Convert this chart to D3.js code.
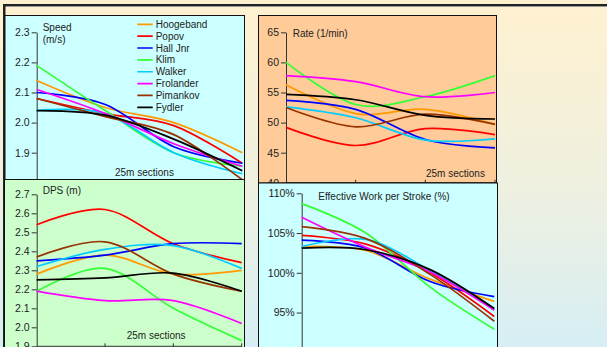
<!DOCTYPE html>
<html><head><meta charset="utf-8">
<script src="https://cdn.jsdelivr.net/npm/d3@7"></script>
<style>body{margin:0;overflow:hidden;background:#fff}svg{display:block;font-family:"Liberation Sans",Arial,sans-serif}</style>
</head><body><svg id="c" width="607" height="347"></svg>
<script>
const runners = ["Hoogeband","Popov","Hall Jnr","Klim","Walker","Frolander","Pimankov","Fydler"];
const runnerColors = ["#FF9900","#FF0000","#0000FF","#33FF33","#00CCFF","#FF00FF","#993300","#000000"];
const sections = ["0-25m","25-50m","50-75m","75-100m"];

const speedValues = [
  [2.14, 2.05, 2.00, 1.90],
  [2.08, 2.03, 1.99, 1.865],
  [2.10, 2.06, 1.92, 1.865],
  [2.19, 2.04, 1.90, 1.855],
  [2.04, 2.03, 1.90, 1.83],
  [2.11, 2.03, 1.93, 1.855],
  [2.08, 2.02, 1.96, 1.81],
  [2.04, 2.025, 1.945, 1.84]
];
const rateValues = [
  [56.3, 51.5, 52.2, 49.7],
  [49.2, 46.2, 49.0, 48.0],
  [53.7, 52.2, 47.2, 45.8],
  [60.0, 53.0, 54.3, 57.8],
  [52.6, 50.8, 47.1, 47.3],
  [57.8, 56.8, 54.3, 55.0],
  [52.5, 49.3, 51.4, 49.7],
  [54.7, 53.8, 51.2, 50.6]
];
const dpsValues = [
  [2.28, 2.38, 2.28, 2.30],
  [2.54, 2.62, 2.44, 2.34],
  [2.35, 2.38, 2.44, 2.44],
  [2.19, 2.31, 2.10, 1.93],
  [2.32, 2.41, 2.43, 2.31],
  [2.19, 2.14, 2.14, 2.02],
  [2.37, 2.45, 2.28, 2.19],
  [2.25, 2.26, 2.285, 2.19]
];
const ewsValues = [
  [103.3, 102.8, 99.2, 96.4],
  [104.7, 103.6, 100.0, 94.5],
  [104.1, 103.1, 98.9, 97.0],
  [108.7, 105.0, 98.2, 92.9],
  [103.3, 104.2, 100.3, 95.4],
  [107.0, 103.2, 100.1, 95.3],
  [105.8, 104.3, 99.8, 93.9],
  [103.1, 102.9, 100.4, 95.5]
];
const speedTicks = [1.8, 1.9, 2.0, 2.1, 2.2, 2.3];
const rateTicks = [40, 45, 50, 55, 60, 65];
const dpsTicks = [1.9, 2.0, 2.1, 2.2, 2.3, 2.4, 2.5, 2.6, 2.7];
const ewsTicks = [95, 100, 105, 110];

const svg = d3.select("#c");
const defs = svg.append("defs");
const grad = defs.append("linearGradient").attr("id","bg").attr("x1",0).attr("y1",0).attr("x2",0).attr("y2",1);
grad.append("stop").attr("offset","0%").attr("stop-color","#FFF1D0");
grad.append("stop").attr("offset","55%").attr("stop-color","#EEF0E0");
grad.append("stop").attr("offset","100%").attr("stop-color","#D6EEF4");
svg.append("rect").attr("width",607).attr("height",347).attr("fill","url(#bg)");
// frame lines
svg.append("rect").attr("x",3).attr("y",4).attr("width",604).attr("height",2).attr("fill","#222");
svg.append("rect").attr("x",3).attr("y",6).attr("width",604).attr("height",1).attr("fill","#999");
svg.append("rect").attr("x",3).attr("y",4).attr("width",2.5).attr("height",343).attr("fill","#222");

const panels = [
  {id:"p1", box:[5,15.5,239.5,164], fill:"#CCFFFF", values:speedValues, ticks:speedTicks, dom:[1.8,2.3],
   xr:[36.7,242.3], yr:[182.8,32.3], fmt:d3.format(".1f"),
   labels:[{t:"Speed",x:42.7,y:31},{t:"(m/s)",x:42.7,y:43},{t:"25m sections",x:115,y:175.5}], legend:true},
  {id:"p2", box:[258.5,15.5,238,167.5], fill:"#FFCC99", values:rateValues, ticks:rateTicks, dom:[40,65],
   xr:[286,495], yr:[182.8,32.3], fmt:d3.format("d"),
   labels:[{t:"Rate (1/min)",x:292.7,y:37},{t:"25m sections",x:426,y:176.5}]},
  {id:"p3", box:[4.5,179.5,240,180], fill:"#CCFFCC", values:dpsValues, ticks:dpsTicks, dom:[1.9,2.7],
   xr:[36.7,241.7], yr:[346.3,194.3], fmt:d3.format(".1f"),
   labels:[{t:"DPS (m)",x:42.7,y:194},{t:"25m sections",x:126.7,y:338.5}]},
  {id:"p4", box:[258.5,183,239,180], fill:"#CCFFFF", values:ewsValues, ticks:ewsTicks, dom:[90,110],
   xr:[301.7,494.3], yr:[352.3,193.3], fmt:d => d + "%",
   labels:[{t:"Effective Work per Stroke (%)",x:318.3,y:200}]}
];

panels.forEach(p => {
  const [bx,by,bw,bh] = p.box;
  defs.append("clipPath").attr("id","clip"+p.id).append("rect").attr("x",bx).attr("y",by).attr("width",bw).attr("height",bh);
  const g = svg.append("g");
  g.append("rect").attr("x",bx).attr("y",by).attr("width",bw).attr("height",bh).attr("fill",p.fill);
  const inner = g.append("g").attr("clip-path","url(#clip"+p.id+")");
  const x = d3.scalePoint().domain(sections).range(p.xr);
  const y = d3.scaleLinear().domain(p.dom).range(p.yr);

  const ya = inner.append("g").attr("transform",`translate(${p.xr[0]},0)`)
    .call(d3.axisLeft(y).tickValues(p.ticks).tickFormat(p.fmt).tickSizeInner(5).tickSizeOuter(0).tickPadding(2));
  ya.select(".domain").attr("stroke","#333");
  ya.selectAll(".tick line").attr("stroke","#333");
  ya.selectAll("text").attr("fill","#222").style("font-size","10.5px");

  const y0 = p.yr[0];
  inner.append("line").attr("x1",p.xr[0]).attr("x2",p.xr[1]).attr("y1",y0).attr("y2",y0).attr("stroke","#333");
  inner.selectAll(".xt").data(sections.slice(1)).join("line")
    .attr("x1",d=>x(d)).attr("x2",d=>x(d)).attr("y1",y0-3).attr("y2",y0+3).attr("stroke","#333");

  const line = d3.line().x((d,i)=>x(sections[i])).y(d=>y(d)).curve(d3.curveCardinal.tension(0));
  p.values.forEach((vals,i) => {
    inner.append("path").attr("d",line(vals)).attr("fill","none")
      .attr("stroke",runnerColors[i]).attr("stroke-width",1.7);
  });

  p.labels.forEach(l => {
    inner.append("text").attr("x",l.x).attr("y",l.y).text(l.t).attr("fill","#222").style("font-size","10px");
  });

  if (p.legend) {
    runners.forEach((r,i) => {
      const ly = 24.3 + i*11.86;
      inner.append("line").attr("x1",137.3).attr("x2",152.7).attr("y1",ly).attr("y2",ly)
        .attr("stroke",runnerColors[i]).attr("stroke-width",1.7);
      inner.append("text").attr("x",155.7).attr("y",ly).attr("dy","0.35em").text(r)
        .attr("fill","#222").style("font-size","10px");
    });
  }
  g.append("rect").attr("x",bx).attr("y",by).attr("width",bw).attr("height",bh)
    .attr("fill","none").attr("stroke","#111").attr("stroke-width",1);
});
</script></body></html>
